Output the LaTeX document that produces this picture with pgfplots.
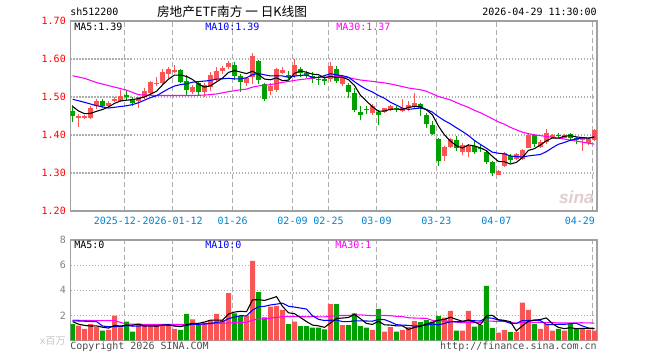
\documentclass[border=0pt]{standalone}
\usepackage{fontspec}
\setmainfont{DejaVu Sans}
\setmonofont{DejaVu Sans Mono}
\newfontfamily\cjk{Noto Sans CJK SC}
\newfontfamily\sinafont{Liberation Sans}
\usepackage{pgfplots}
\usepackage{pgfplotstable}
\pgfplotsset{compat=1.18}
\definecolor{kred}{RGB}{250,85,85}
\definecolor{kgreen}{RGB}{0,160,0}
\definecolor{framec}{RGB}{160,160,160}
\definecolor{gridc}{RGB}{175,175,175}
\definecolor{tickblue}{RGB}{0,130,210}
\definecolor{mablue}{RGB}{0,0,255}
\definecolor{mamag}{RGB}{255,0,255}
\newcommand\mono{\ttfamily\fontsize{7.5}{8}\selectfont}

\pgfplotstableread{
i o h l c v
1 1.445 1.454 1.422 1.451 1.18
2 1.446 1.452 1.442 1.449 0.92
3 1.444 1.475 1.441 1.472 1.31
4 1.475 1.495 1.468 1.489 1.10
6 1.475 1.490 1.470 1.485 0.84
7 1.490 1.500 1.486 1.496 1.98
8 1.489 1.518 1.486 1.503 1.05
11 1.489 1.501 1.470 1.499 1.31
12 1.499 1.524 1.495 1.517 1.21
13 1.510 1.543 1.506 1.540 1.15
14 1.534 1.553 1.530 1.537 1.29
15 1.536 1.573 1.532 1.567 1.15
16 1.560 1.580 1.549 1.575 1.29
17 1.567 1.584 1.562 1.570 0.92
20 1.514 1.532 1.508 1.527 1.68
22 1.514 1.536 1.501 1.531 1.42
23 1.525 1.565 1.515 1.558 1.63
24 1.547 1.578 1.543 1.569 2.11
25 1.569 1.582 1.561 1.577 1.63
26 1.578 1.595 1.574 1.589 3.78
29 1.536 1.553 1.530 1.549 1.95
30 1.552 1.617 1.535 1.608 6.33
33 1.516 1.536 1.506 1.530 2.69
34 1.518 1.577 1.512 1.574 2.75
35 1.564 1.580 1.560 1.571 2.43
37 1.554 1.600 1.549 1.584 1.50
43 1.548 1.593 1.540 1.582 2.90
45 1.535 1.553 1.530 1.550 1.23
50 1.457 1.481 1.453 1.475 0.84
52 1.460 1.472 1.458 1.470 0.70
53 1.466 1.478 1.463 1.475 1.07
55 1.464 1.496 1.461 1.470 0.84
56 1.470 1.489 1.463 1.479 1.07
57 1.475 1.511 1.470 1.485 1.55
62 1.346 1.372 1.332 1.369 1.82
63 1.369 1.391 1.367 1.389 2.35
65 1.356 1.378 1.347 1.374 0.78
66 1.356 1.375 1.343 1.372 2.35
71 1.296 1.308 1.294 1.305 0.62
72 1.319 1.355 1.317 1.352 0.84
74 1.337 1.353 1.335 1.350 0.68
75 1.337 1.363 1.335 1.361 3.01
76 1.367 1.402 1.365 1.400 2.43
78 1.369 1.386 1.366 1.382 0.92
79 1.381 1.416 1.376 1.404 1.31
80 1.396 1.403 1.394 1.400 0.78
82 1.393 1.402 1.391 1.400 0.78
85 1.387 1.394 1.358 1.391 0.92
86 1.378 1.392 1.374 1.389 0.84
87 1.387 1.416 1.384 1.413 0.78
}\redk

\pgfplotstableread{
i o h l c v
0 1.463 1.479 1.435 1.451 1.31
5 1.489 1.494 1.470 1.475 0.78
9 1.505 1.518 1.492 1.499 1.50
10 1.494 1.500 1.475 1.483 0.70
18 1.571 1.575 1.536 1.540 0.84
19 1.543 1.558 1.505 1.518 2.11
21 1.536 1.542 1.505 1.514 1.29
27 1.584 1.593 1.545 1.554 2.16
28 1.554 1.560 1.514 1.539 1.95
31 1.594 1.597 1.535 1.545 3.86
32 1.533 1.536 1.490 1.495 1.84
36 1.558 1.568 1.547 1.552 1.31
38 1.575 1.580 1.552 1.562 1.15
39 1.562 1.569 1.550 1.556 1.15
40 1.556 1.566 1.537 1.547 1.02
41 1.547 1.554 1.532 1.544 1.02
42 1.547 1.554 1.531 1.542 0.89
44 1.574 1.582 1.536 1.542 2.90
46 1.532 1.536 1.498 1.512 1.23
47 1.511 1.523 1.461 1.466 2.16
48 1.461 1.476 1.439 1.453 1.15
49 1.468 1.476 1.454 1.465 1.02
51 1.461 1.466 1.426 1.453 2.51
54 1.472 1.476 1.460 1.468 0.70
58 1.481 1.484 1.451 1.470 1.47
59 1.453 1.458 1.419 1.428 1.63
60 1.426 1.437 1.400 1.403 1.50
61 1.389 1.392 1.319 1.332 1.95
64 1.387 1.398 1.358 1.365 0.78
67 1.372 1.384 1.350 1.356 1.10
68 1.367 1.375 1.354 1.364 1.23
69 1.356 1.360 1.323 1.328 4.34
70 1.330 1.332 1.293 1.299 0.99
73 1.346 1.350 1.325 1.334 0.68
77 1.400 1.402 1.369 1.375 1.31
81 1.400 1.405 1.394 1.397 0.92
83 1.402 1.404 1.388 1.391 1.31
84 1.393 1.396 1.375 1.387 0.92
}\greenk

\pgfplotstableread{
i ma5 ma10 ma30 vma5 vma10 vma30
0 1.475 1.494 1.556 1.50 1.57 1.62
1 1.463 nan nan 1.30 nan nan
2 1.456 1.486 1.549 1.20 nan nan
3 1.457 nan nan 1.15 nan nan
4 1.4624 1.477 1.538 1.164 1.50 1.58
5 1.4672 nan nan 1.058 1.15 nan
6 1.474 1.471 1.530 0.99 1.10 nan
7 1.4834 nan nan 1.202 nan 1.58
8 1.4896 nan nan 1.15 1.10 nan
9 1.4916 1.477 1.518 1.23 1.197 1.30
10 1.4932 1.4802 nan 1.214 1.136 nan
11 1.496 1.485 1.506 1.308 1.149 nan
12 1.5002 1.4918 nan 1.154 1.178 nan
13 1.5076 1.4986 nan 1.174 1.162 nan
14 1.5152 1.5034 1.504 1.132 1.181 1.28
15 1.532 1.5126 nan 1.222 1.218 nan
16 1.5472 1.5216 nan 1.218 1.263 nan
17 1.5578 1.529 1.504 1.16 1.157 nan
18 1.5578 1.5327 nan 1.098 1.136 nan
19 1.554 1.5346 nan 1.262 1.197 nan
20 1.546 1.539 1.504 1.368 1.295 1.28
21 1.5338 1.5405 nan 1.368 1.293 nan
22 1.526 1.5419 1.505 1.468 1.314 nan
23 1.5296 1.5437 nan 1.626 1.362 nan
24 1.5398 1.5469 1.508 1.626 1.444 1.35
25 1.5498 1.5479 nan 1.616 1.492 nan
26 1.5648 1.5493 1.514 2.114 1.741 nan
27 1.5694 1.5477 nan 2.262 1.865 1.42
28 1.5656 1.5476 1.519 2.326 1.976 nan
29 1.5616 1.5507 1.5208 2.294 1.96 1.451
30 1.5678 1.5588 1.526 3.234 2.425 1.619
31 1.559 1.5619 1.5291 3.25 2.682 1.708
32 1.5472 1.5583 1.5307 3.186 2.724 1.739
33 1.5454 1.5555 1.5326 3.334 2.83 1.785
34 1.5504 1.556 1.5354 3.494 2.894 1.840
35 1.543 1.5554 1.5386 2.714 2.974 1.895
36 1.5444 1.5517 1.5409 2.204 2.727 1.910
37 1.5622 1.5547 1.5438 2.136 2.661 1.894
38 1.5686 1.557 1.5458 1.828 2.581 1.898
39 1.565 1.5577 1.5477 1.508 2.501 1.886
40 1.5602 1.5516 1.5498 1.226 1.97 1.897
41 1.5586 1.5515 1.5513 1.168 1.686 1.887
42 1.5502 1.5562 1.5521 1.046 1.591 1.876
43 1.5542 1.5614 1.5535 1.396 1.612 1.935
44 1.5514 1.5582 1.5537 1.746 1.627 1.988
45 1.552 1.5561 1.5531 1.788 1.507 1.991
46 1.5456 1.5521 1.551 1.83 1.499 1.989
47 1.5304 1.5403 1.5476 2.084 1.565 2.030
48 1.5046 1.5294 1.5447 1.734 1.565 2.041
49 1.4892 1.5203 1.5429 1.358 1.552 2.004
50 1.4742 1.5131 1.5412 1.28 1.534 1.976
51 1.4624 1.504 1.5391 1.536 1.683 2.017
52 1.4632 1.4968 1.5371 1.244 1.664 1.993
53 1.4676 1.4861 1.5343 1.228 1.481 1.974
54 1.4682 1.4787 1.531 1.164 1.261 1.927
55 1.4672 1.4707 1.5274 1.164 1.222 1.901
56 1.4724 1.4674 1.5237 0.876 1.206 1.811
57 1.4754 1.4693 1.5214 1.046 1.145 1.790
58 1.4744 1.471 1.5191 1.126 1.177 1.774
59 1.4664 1.4673 1.5151 1.312 1.238 1.764
60 1.453 1.4601 1.5083 1.444 1.304 1.603
61 1.4236 1.448 1.5012 1.62 1.248 1.539
62 1.4004 1.4379 1.497 1.674 1.36 1.538
63 1.3842 1.4293 1.4923 1.85 1.488 1.527
64 1.3716 1.419 1.4853 1.68 1.496 1.461
65 1.3658 1.4094 1.4787 1.536 1.49 1.406
66 1.3738 1.3987 1.4727 1.616 1.618 1.441
67 1.3712 1.3858 1.4651 1.472 1.573 1.428
68 1.3662 1.3752 1.4585 1.248 1.549 1.430
69 1.3588 1.3652 1.4509 1.96 1.82 1.537
70 1.3438 1.3548 1.4427 2.002 1.769 1.536
71 1.3304 1.3521 1.4347 1.656 1.636 1.522
72 1.3296 1.3504 1.4284 1.604 1.538 1.521
73 1.3236 1.3449 1.4201 1.494 1.371 1.447
74 1.328 1.3434 1.4137 0.762 1.361 1.373
75 1.3404 1.3421 1.4074 1.166 1.584 1.432
76 1.3594 1.3449 1.4037 1.528 1.592 1.472
77 1.364 1.3468 1.4006 1.622 1.613 1.444
78 1.3736 1.3486 1.3983 1.67 1.582 1.436
79 1.3844 1.3562 1.3962 1.796 1.279 1.446
80 1.3922 1.3663 1.3937 1.35 1.258 1.444
81 1.3916 1.3755 1.3919 1.048 1.288 1.391
82 1.3966 1.3803 1.3895 0.942 1.282 1.393
83 1.3984 1.386 1.3867 1.02 1.345 1.401
84 1.395 1.3897 1.384 0.942 1.369 1.409
85 1.3932 1.3927 1.3814 0.97 1.16 1.411
86 1.3916 1.3916 1.3784 0.954 0.997 1.404
87 1.3942 1.3954 1.376 0.954 0.944 1.378
}\mas

\pgfplotsset{kbase/.style={
  scale only axis, width=394.875pt,
  xmin=-0.36, xmax=87.45,
  axis line style={framec, line width=1.2pt},
  major tick length=0pt, tick style={draw=none},
  xtick={8.67,16.67,26.67,36.67,42.67,50.67,60.67,70.67,86.67},
  xmajorgrids, ymajorgrids,
  x grid style={gridc, line width=0.9pt, dash pattern=on 3.75pt off 2.25pt},
  y grid style={gridc, line width=0.9pt, dash pattern=on 0.9pt off 1.35pt},
  unbounded coords=discard,
  /pgf/number format/assume math mode=true,
},
candle/.style n args={2}{draw=none, mark=none, forget plot,
  error bars/.cd, y dir=plus, y explicit, error mark=none,
  error bar style={draw=#1, solid, line width=#2}},
}

\begin{document}
\begin{tikzpicture}
\path[use as bounding box] (0,0) rectangle (495pt,270pt);

% ---------- price panel ----------
\begin{axis}[kbase, at={(52.875pt,111.75pt)}, anchor=south west,
  height=142.5pt, ymin=1.20, ymax=1.70,
  ytick={1.2,1.3,1.4,1.5,1.6,1.7},
  yticklabel style={text=red, font=\mono, /pgf/number format/.cd, fixed, fixed zerofill, precision=2},
  xticklabels={{\hspace{26pt}\makebox[0pt][r]{2025-12-}},2026-01-12,01-26,02-09,02-25,03-09,03-23,04-07,{\hspace{4pt}\makebox[0pt][r]{04-29}}},
  xticklabel style={text=tickblue, font=\mono, inner sep=0.6pt, yshift=-4pt},
]
% wicks
\addplot[candle={kred}{0.8pt}]
  table[x=i, y=l, y error expr=\thisrow{h}-\thisrow{l}]{\redk};
\addplot[candle={kgreen}{0.8pt}]
  table[x=i, y=l, y error expr=\thisrow{h}-\thisrow{l}]{\greenk};
% bodies
\addplot[candle={kred}{3.75pt}]
  table[x=i, y=o, y error expr=\thisrow{c}-\thisrow{o}]{\redk};
\addplot[candle={kgreen}{3.75pt}]
  table[x=i, y=c, y error expr=\thisrow{o}-\thisrow{c}]{\greenk};
% moving averages
\addplot[mamag, line width=0.8pt, mark=none] table[x=i, y=ma30]{\mas};
\addplot[mablue, line width=0.8pt, mark=none] table[x=i, y=ma10]{\mas};
\addplot[black, line width=0.8pt, mark=none] table[x=i, y=ma5]{\mas};
\end{axis}

% ---------- volume panel ----------
\begin{axis}[kbase, at={(52.875pt,14.625pt)}, anchor=south west,
  height=75.375pt, ymin=0, ymax=8,
  ytick={2,4,6,8},
  yticklabel style={text=gray, font=\mono},
  xticklabels={},
]
\addplot[ybar, bar width=3.75pt, bar shift=0pt, fill=kred, draw=none] table[x=i, y=v]{\redk};
\addplot[ybar, bar width=3.75pt, bar shift=0pt, fill=kgreen, draw=none] table[x=i, y=v]{\greenk};
\addplot[mamag, line width=0.8pt, mark=none] table[x=i, y=vma30]{\mas};
\addplot[mablue, line width=0.8pt, mark=none] table[x=i, y=vma10]{\mas};
\addplot[black, line width=0.8pt, mark=none] table[x=i, y=vma5]{\mas};
\end{axis}

% ---------- texts (pixel coordinates, y from bottom) ----------
\begin{scope}[x=0.75pt, y=0.75pt, every node/.style={inner sep=0pt}]
\node[anchor=west, font=\mono] at (70,348) {sh512200};
\node[font=\cjk\fontsize{9.5}{10}\selectfont] at (232,348) {房地产ETF南方 一 日K线图};
\node[anchor=east, font=\mono] at (597,348) {2026-04-29 11:30:00};
\node[anchor=west, font=\mono] at (74,333) {MA5:1.39};
\node[anchor=west, font=\mono, text=mablue] at (205,333) {MA10:1.39};
\node[anchor=west, font=\mono, text=mamag] at (336,333) {MA30:1.37};
\node[anchor=west, font=\mono] at (74,115) {MA5:0};
\node[anchor=west, font=\mono, text=mablue] at (205,115) {MA10:0};
\node[anchor=west, font=\mono, text=mamag] at (335,115) {MA30:1};
\node[anchor=east, text=gray!45] at (66,19) {\mono x\cjk\fontsize{7.5}{8}\selectfont 百万};
\node[anchor=west, font=\mono, text=black!70] at (70,13) {Copyright 2026 SINA.COM};
\node[anchor=east, font=\mono, text=black!70] at (597,13) {http://finance.sina.com.cn};
\node[anchor=east, text={rgb,255:red,225;green,205;blue,205}] at (594,163) {\sinafont\bfseries\itshape\fontsize{13}{13}\selectfont sina};
\end{scope}
\end{tikzpicture}
\end{document}
